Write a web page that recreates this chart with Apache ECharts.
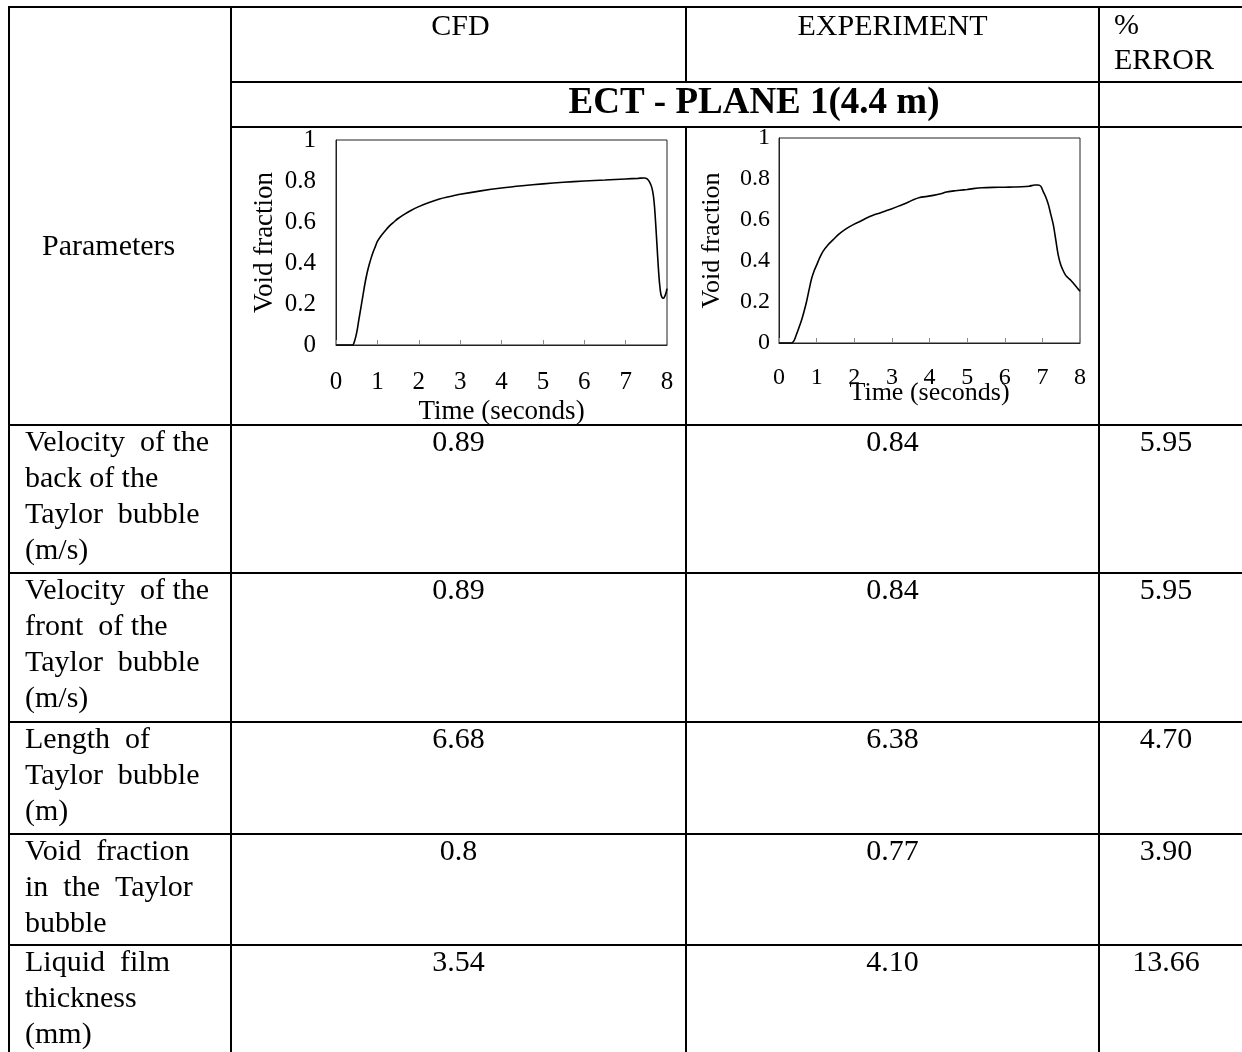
<!DOCTYPE html>
<html>
<head>
<meta charset="utf-8">
<script src="https://cdn.jsdelivr.net/npm/echarts@6/dist/echarts.min.js"></script>
<style>
html,body{margin:0;padding:0;background:#fff;}
#c{width:1242px;height:1052px;}
</style>
</head>
<body>
<div id="c"></div>
<script>
// ---------- DATA ----------
const headerLabels = ['CFD', 'EXPERIMENT', '%\nERROR'];
const sectionTitle = 'ECT - PLANE 1(4.4 m)';
const firstColumnTitle = 'Parameters';
const paramLabels = [
  'Velocity  of the\nback of the\nTaylor  bubble\n(m/s)',
  'Velocity  of the\nfront  of the\nTaylor  bubble\n(m/s)',
  'Length  of\nTaylor  bubble\n(m)',
  'Void  fraction\nin  the  Taylor\nbubble',
  'Liquid  film\nthickness\n(mm)'
];
const cfdValues = ['0.89', '0.89', '6.68', '0.8', '3.54'];
const expValues = ['0.84', '0.84', '6.38', '0.77', '4.10'];
const errValues = ['5.95', '5.95', '4.70', '3.90', '13.66'];

const axisXName = 'Time (seconds)';
const axisYName = 'Void fraction';

const cfdTime = [0, 0.2, 0.4, 0.45, 0.5, 0.55, 0.6, 0.65, 0.7, 0.75, 0.8, 0.85, 0.9, 0.95, 1.0, 1.1, 1.2, 1.3, 1.4, 1.5, 1.65, 1.8, 2.0, 2.25, 2.5, 2.75, 3.0, 3.5, 4.0, 4.5, 5.0, 5.5, 6.0, 6.5, 7.0, 7.3, 7.45, 7.52, 7.58, 7.63, 7.67, 7.7, 7.73, 7.76, 7.79, 7.82, 7.85, 7.88, 7.91, 7.94, 7.97, 8.0];
const cfdVoid = [0, 0, 0, 0.02, 0.06, 0.12, 0.18, 0.24, 0.3, 0.35, 0.39, 0.425, 0.455, 0.48, 0.505, 0.535, 0.56, 0.582, 0.6, 0.617, 0.637, 0.655, 0.675, 0.695, 0.712, 0.724, 0.735, 0.752, 0.766, 0.777, 0.786, 0.794, 0.8, 0.805, 0.81, 0.813, 0.815, 0.81, 0.795, 0.77, 0.73, 0.67, 0.58, 0.48, 0.38, 0.3, 0.25, 0.232, 0.228, 0.235, 0.25, 0.275];

const expTime = [0, 0.2, 0.33, 0.4, 0.46, 0.52, 0.59, 0.66, 0.73, 0.8, 0.86, 0.93, 1.0, 1.08, 1.17, 1.3, 1.44, 1.6, 1.79, 2.0, 2.15, 2.3, 2.5, 2.7, 2.86, 3.0, 3.21, 3.4, 3.57, 3.74, 3.9, 4.1, 4.3, 4.45, 4.65, 4.81, 5.0, 5.16, 5.4, 5.69, 6.0, 6.23, 6.45, 6.65, 6.8, 6.89, 6.96, 7.02, 7.09, 7.16, 7.22, 7.29, 7.35, 7.42, 7.49, 7.56, 7.62, 7.69, 7.76, 7.82, 7.9, 8.0];
const expVoid = [0, 0, 0, 0.012, 0.04, 0.07, 0.106, 0.15, 0.2, 0.26, 0.31, 0.35, 0.38, 0.415, 0.447, 0.478, 0.504, 0.532, 0.558, 0.58, 0.593, 0.607, 0.623, 0.635, 0.646, 0.655, 0.67, 0.684, 0.699, 0.71, 0.714, 0.72, 0.728, 0.737, 0.742, 0.745, 0.749, 0.753, 0.757, 0.759, 0.76, 0.761, 0.762, 0.765, 0.771, 0.771, 0.764, 0.74, 0.712, 0.675, 0.63, 0.577, 0.51, 0.43, 0.38, 0.35, 0.33, 0.317, 0.305, 0.293, 0.275, 0.252];

// ---------- LAYOUT ----------
const FONT = '"Liberation Serif", "Times New Roman", serif';
const W = 1242;
const L = 9, T = 7;
const colX = [231, 686, 1099];
const headerBottom = 82, sectionBottom = 127;
const rowLines = [425, 573, 722, 834, 945];
const H = 1052;

const chart = echarts.init(document.getElementById('c'), null, {renderer: 'canvas'});

function hLine(x1, x2, y) {
  return {type: 'line', silent: true, shape: {x1: x1, y1: y, x2: x2, y2: y}, style: {stroke: '#000', lineWidth: 2}};
}
function vLine(x, y1, y2) {
  return {type: 'line', silent: true, shape: {x1: x, y1: y1, x2: x, y2: y2}, style: {stroke: '#000', lineWidth: 2}};
}
function txt(text, x, y, opts) {
  opts = opts || {};
  return {type: 'text', silent: true, style: {
    text: text, x: x, y: y, fill: '#000',
    font: (opts.bold ? 'bold ' : '') + (opts.size || 30) + 'px ' + FONT,
    align: opts.align || 'left', verticalAlign: opts.va || 'top',
    lineHeight: opts.lh || 36
  }};
}

const g = [];
g.push(hLine(L - 1, W, T));
g.push(vLine(L, T - 1, H));
g.push(vLine(colX[0], T - 1, H));
g.push(vLine(colX[1], T - 1, headerBottom));
g.push(vLine(colX[1], sectionBottom, H));
g.push(vLine(colX[2], T - 1, H));
g.push(hLine(colX[0], W, headerBottom));
g.push(hLine(colX[0], W, sectionBottom));
rowLines.forEach(function (y) { g.push(hLine(L, W, y)); });

g.push(txt(headerLabels[0], (colX[0] + colX[1]) / 2 + 2, 9, {align: 'center'}));
g.push(txt(headerLabels[1], (colX[1] + colX[2]) / 2, 9, {align: 'center'}));
g.push(txt(headerLabels[2], 1114, 9, {lh: 35}));
g.push(txt(sectionTitle, 754, 103, {bold: true, size: 37, align: 'center', va: 'middle'}));
g.push(txt(firstColumnTitle, 42, 247, {va: 'middle'}));

paramLabels.forEach(function (lab, i) {
  const y = rowLines[i];
  g.push(txt(lab, 25, y));
  g.push(txt(cfdValues[i], (colX[0] + colX[1]) / 2, y, {align: 'center'}));
  g.push(txt(expValues[i], (colX[1] + colX[2]) / 2, y, {align: 'center'}));
  g.push(txt(errValues[i], 1166, y, {align: 'center'}));
});

function pairs(xs, ys) { return xs.map(function (x, i) { return [x, ys[i]]; }); }

function xAxisCfg(idx, fs, nfs, margin, gap) {
  return {
    type: 'value', gridIndex: idx, min: 0, max: 8, interval: 1,
    name: axisXName, nameLocation: 'middle', nameGap: gap, nameMoveOverlap: false,
    nameTextStyle: {fontFamily: FONT, fontSize: nfs, color: '#000'},
    axisLine: {show: true, lineStyle: {color: '#222', width: 1}},
    axisTick: {show: true, inside: true, length: 5, lineStyle: {color: '#888'}},
    axisLabel: {fontFamily: FONT, fontSize: fs, color: '#000', margin: margin},
    splitLine: {show: false}
  };
}
function yAxisCfg(idx, fs, nfs, margin, gap) {
  return {
    type: 'value', gridIndex: idx, min: 0, max: 1, interval: 0.2,
    name: axisYName, nameLocation: 'middle', nameGap: gap, nameMoveOverlap: false,
    nameTextStyle: {fontFamily: FONT, fontSize: nfs, color: '#000'},
    axisLine: {show: true, lineStyle: {color: '#222', width: 1}},
    axisTick: {show: false},
    axisLabel: {fontFamily: FONT, fontSize: fs, color: '#000', margin: margin},
    splitLine: {show: false}
  };
}

const option = {
  backgroundColor: '#fff',
  animation: false,
  grid: [
    {left: 336, top: 140, width: 331, height: 205, show: true, borderColor: '#222', borderWidth: 1, backgroundColor: 'transparent'},
    {left: 779, top: 138, width: 301, height: 205, show: true, borderColor: '#222', borderWidth: 1, backgroundColor: 'transparent'}
  ],
  xAxis: [xAxisCfg(0, 25, 27, 25, 53), xAxisCfg(1, 24, 26, 23, 37)],
  yAxis: [yAxisCfg(0, 25, 27, 20, 58), yAxisCfg(1, 24, 26, 9, 54)],
  series: [
    {type: 'line', xAxisIndex: 0, yAxisIndex: 0, data: pairs(cfdTime, cfdVoid), smooth: 0.3,
     showSymbol: false, lineStyle: {color: '#000', width: 1.6}, silent: true},
    {type: 'line', xAxisIndex: 1, yAxisIndex: 1, data: pairs(expTime, expVoid), smooth: 0.3,
     showSymbol: false, lineStyle: {color: '#000', width: 1.6}, silent: true}
  ],
  graphic: {elements: g}
};
chart.setOption(option);
</script>
</body>
</html>
